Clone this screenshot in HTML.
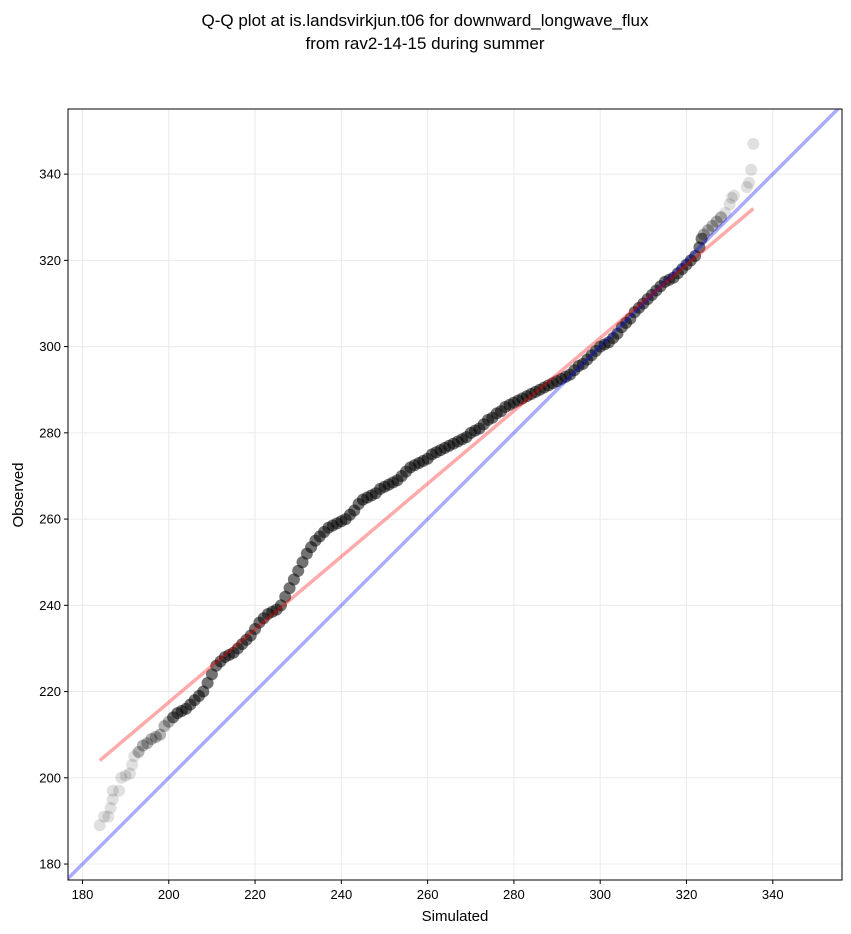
<!DOCTYPE html>
<html><head><meta charset="utf-8"><style>
body{margin:0;background:#fff;}
svg{display:block;font-family:"Liberation Sans","DejaVu Sans",sans-serif;}
</style></head><body>
<svg id="chart" width="851" height="934">
<text x="425" y="26" text-anchor="middle" font-size="17">Q-Q plot at is.landsvirkjun.t06 for downward_longwave_flux</text>
<text x="425" y="49" text-anchor="middle" font-size="17">from rav2-14-15 during summer</text>
<g id="grid"></g>
<defs><clipPath id="clip"><rect x="68" y="109" width="774" height="771"/></clipPath></defs>
<g id="plot" clip-path="url(#clip)"></g>
<rect x="68" y="109" width="774" height="771" fill="none" stroke="#000" stroke-width="1"/>
<g id="axes"></g>
<text x="455" y="921" text-anchor="middle" font-size="15">Simulated</text>
<text x="23" y="495" text-anchor="middle" font-size="15" transform="rotate(-90 23 495)">Observed</text>
</svg>
<script>
const simQ=[184,185,186,186.5,187,187,188.5,189,190,191,191.5,192,193,194,195,196,197,198,199,200,201,202,203,204,205,206,207,208,209,210,211,212,213,214,215,216,217,218,219,220,221,222,223,224,225,226,227,228,229,230,231,232,233,234,235,236,237,238,239,240,241,242,243,244,245,246,247,248,249,250,251,252,253,254,255,256,257,258,259,260,261,262,263,264,265,266,267,268,269,270,271,272,273,274,275,276,277,278,279,280,281,282,283,284,285,286,287,288,289,290,291,292,293,294,295,296,297,298,299,300,301,302,303,304,305,306,307,308,309,310,311,312,313,314,315,316,317,318,319,320,321,322,323,323.5,324,325,326,327,328,329,330,330.5,331,334,334.5,335,335.5];
const obsQ=[189,191,191,193,195,197,197,200,200.5,201,203,205,206,207.5,208,209,209.5,210,212,213,214,215,215.5,216,217,218,219,220,222,224,226,227,228,228.5,229,230,231,232,233,234.5,236,237,238,238.5,239,240,242,244,246,248,250,252,253.5,255,256,257,258,258.5,259,259.5,260,261,262,263.5,264.5,265,265.5,266,267,267.5,268,268.5,269,270,271,272,272.5,273,273.5,274,275,275.5,276,276.5,277,277.5,278,278.5,279,280,280.5,281,282,283,283.5,284.5,285,286,286.5,287,287.5,288,288.5,289,289.5,290,290.5,291,291.5,292,292.5,293,293.5,294.5,295.5,296,297,298,299,300,300.5,301,302,303,304.5,305.5,306.5,308,309,310,311,312,313,314,315,315.5,316,317,318,319,320,321,323,325,326,327,328,329,330,331,333,334.5,335,337,338,341,347];
const fitLine=[[184,204],[335.5,332]];
const ticks=[180,200,220,240,260,280,300,320,340];
const dmin=176.64, dmax=356.05;
const L=68,R=842,T=109,B=880;
const sx=v=>L+(v-dmin)/(dmax-dmin)*(R-L);
const sy=v=>B-(v-176.3)/(355.1-176.3)*(B-T);
const NS="http://www.w3.org/2000/svg";
function mk(tag,attrs,parent){const e=document.createElementNS(NS,tag);for(const k in attrs)e.setAttribute(k,attrs[k]);parent.appendChild(e);return e;}
const grid=document.getElementById('grid'),plot=document.getElementById('plot'),axes=document.getElementById('axes');
ticks.forEach(t=>{
  const x=sx(t),y=sy(t);
  if(x>L&&x<R){const g=mk('line',{x1:x,x2:x,y1:T,y2:B,stroke:'#ebebeb','stroke-width':1},grid);
  
  
  const tk=mk('line',{x1:x,x2:x,y1:B,y2:B+4,stroke:'#000'},axes);
  
  
  const tl=mk('text',{x:x,y:B+19,'text-anchor':'middle','font-size':13},axes);tl.textContent=t;
  
  }
  if(y>T&&y<B){const g=mk('line',{x1:L,x2:R,y1:y,y2:y,stroke:'#ebebeb','stroke-width':1},grid);
  
  
  const tk=mk('line',{x1:L-4,x2:L,y1:y,y2:y,stroke:'#000'},axes);
  
  
  const tl=mk('text',{x:L-7,y:y+4.5,'text-anchor':'end','font-size':13},axes);tl.textContent=t;
  
  }
});
const n=simQ.length;
simQ.forEach((s,i)=>{
  const tail=(i<12||i>n-9);
  const near=(i<20||i>n-14);
  const c=mk('circle',{cx:sx(s),cy:sy(obsQ[i]),r:6,fill:'#000','fill-opacity':tail?0.12:(near?0.3:0.55)},plot);
  
  
});
const bl=mk('line',{x1:sx(dmin),y1:sy(dmin),x2:sx(dmax),y2:sy(dmax),stroke:'#0000ff','stroke-opacity':0.33,'stroke-width':3.5},plot);


const rl=mk('line',{x1:sx(fitLine[0][0]),y1:sy(fitLine[0][1]),x2:sx(fitLine[1][0]),y2:sy(fitLine[1][1]),stroke:'#ff0000','stroke-opacity':0.33,'stroke-width':3.5},plot);


</script>
</body></html>
